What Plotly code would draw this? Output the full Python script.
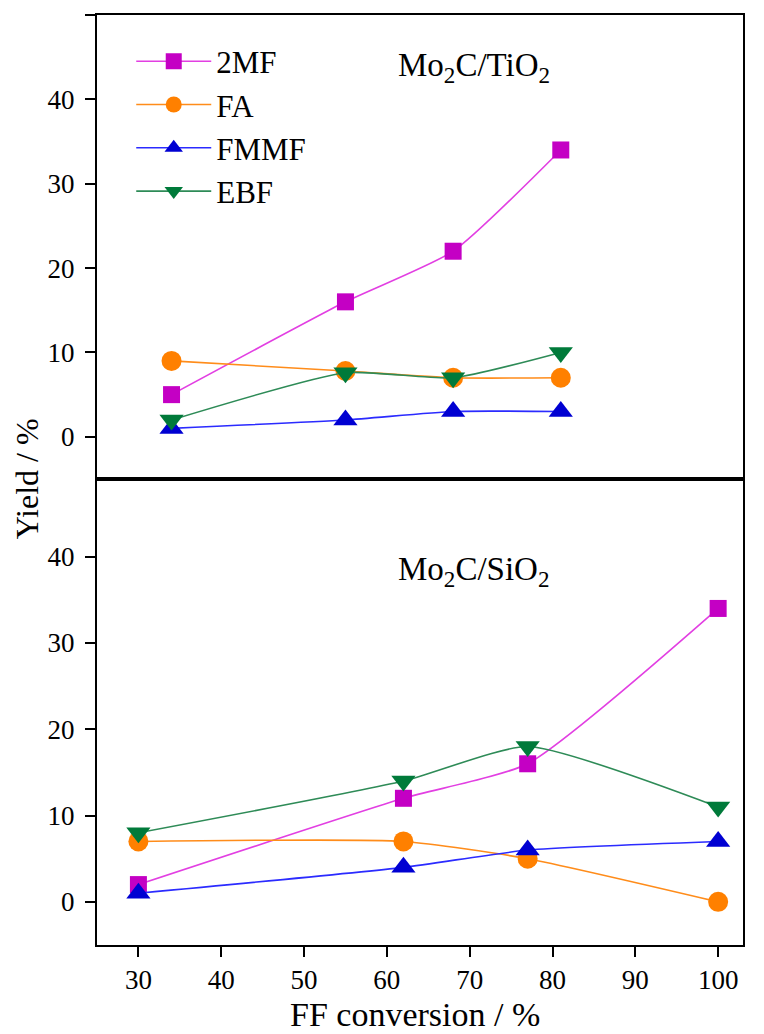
import plotly.graph_objects as go

# ---- data ----
series = ["2MF", "FA", "FMMF", "EBF"]

ti_conv = [34, 55, 68, 81]
ti_2mf = [5, 16, 22, 34]
ti_fa = [9, 7.8, 7, 7]
ti_fmmf = [1, 2, 3, 3]
ti_ebf = [2, 7.6, 7, 10]

si_conv = [30, 62, 77, 100]
si_2mf = [2, 12, 16, 34]
si_fa = [7, 7, 5, 0]
si_fmmf = [1, 4, 6, 7]
si_ebf = [8, 14, 18, 11]

x_ticks = [30, 40, 50, 60, 70, 80, 90, 100]
y_ticks_top = [0, 10, 20, 30, 40, 50]
y_ticks_bot = [0, 10, 20, 30, 40]

# ---- styles ----
FONT = "Liberation Serif"
styles = {
    "2MF": dict(line="#E23FE2", marker="#C400C4", symbol="square", size=17),
    "FA": dict(line="#FF8C1A", marker="#FF8000", symbol="circle", size=20),
    "FMMF": dict(line="#2B2BFF", marker="#0000D2", symbol="triangle-up", size=21),
    "EBF": dict(line="#2E8B57", marker="#007A3A", symbol="triangle-down", size=21),
}

top_data = {"2MF": ti_2mf, "FA": ti_fa, "FMMF": ti_fmmf, "EBF": ti_ebf}
bot_data = {"2MF": si_2mf, "FA": si_fa, "FMMF": si_fmmf, "EBF": si_ebf}

fig = go.Figure()

for name in series:
    s = styles[name]
    fig.add_trace(go.Scatter(
        x=ti_conv, y=top_data[name], name=name, mode="lines+markers",
        line=dict(color=s["line"], width=1.6, shape="spline", smoothing=0.55),
        marker=dict(color=s["marker"], symbol=s["symbol"], size=s["size"], line=dict(width=0)),
        xaxis="x2", yaxis="y2", showlegend=True, legendgroup=name,
    ))

for name in series:
    s = styles[name]
    fig.add_trace(go.Scatter(
        x=si_conv, y=bot_data[name], name=name, mode="lines+markers",
        line=dict(color=s["line"], width=1.6, shape="spline", smoothing=0.55),
        marker=dict(color=s["marker"], symbol=s["symbol"], size=s["size"], line=dict(width=0)),
        xaxis="x", yaxis="y", showlegend=False, legendgroup=name,
    ))

split = 467 / 932

axis_common = dict(
    showline=True, linecolor="black", linewidth=2, mirror=True,
    showgrid=False, zeroline=False,
    tickfont=dict(family=FONT, size=27, color="black"),
)

fig.update_layout(
    width=756, height=1026,
    margin=dict(l=89, r=21, t=5, b=89),
    paper_bgcolor="white", plot_bgcolor="white",
    font=dict(family=FONT, color="black"),
    xaxis=dict(
        **axis_common, range=[25, 103], domain=[0, 1], anchor="y",
        tickvals=x_ticks, ticks="outside", ticklen=10, tickwidth=2, tickcolor="black",
    ),
    xaxis2=dict(
        **axis_common, range=[25, 103], domain=[0, 1], anchor="y2",
        showticklabels=False, ticks="",
    ),
    yaxis=dict(
        **axis_common, range=[-5, 49], domain=[0, split], anchor="x",
        tickvals=y_ticks_bot, ticks="outside", ticklen=10, tickwidth=2, tickcolor="black",
        ticklabelstandoff=5,
    ),
    yaxis2=dict(
        **axis_common, range=[-5, 50], domain=[split, 1], anchor="x2",
        tickvals=y_ticks_top, ticks="outside", ticklen=10, tickwidth=2, tickcolor="black",
        ticklabelstandoff=5,
    ),
    legend=dict(
        x=0.053, y=0.979, xanchor="left", yanchor="top",
        bgcolor="rgba(0,0,0,0)", borderwidth=0,
        font=dict(family=FONT, size=31, color="black"),
        itemwidth=75, tracegroupgap=0,
    ),
    showlegend=True,
    annotations=[
        dict(text="Mo<sub>2</sub>C/TiO<sub>2</sub>", xref="paper", yref="paper",
             x=0.463, y=0.944, xanchor="left", yanchor="middle", showarrow=False,
             font=dict(family=FONT, size=33, color="black")),
        dict(text="Mo<sub>2</sub>C/SiO<sub>2</sub>", xref="paper", yref="paper",
             x=0.463, y=0.402, xanchor="left", yanchor="middle", showarrow=False,
             font=dict(family=FONT, size=33, color="black")),
        dict(text="Yield / %", xref="paper", yref="paper",
             x=-0.108, y=split, xanchor="center", yanchor="middle", textangle=-90,
             showarrow=False, font=dict(family=FONT, size=32, color="black")),
        dict(text="FF conversion / %", xref="paper", yref="paper",
             x=0.493, y=-0.0745, xanchor="center", yanchor="middle",
             showarrow=False, font=dict(family=FONT, size=34, color="black")),
    ],
)

fig.write_html("out.html")
